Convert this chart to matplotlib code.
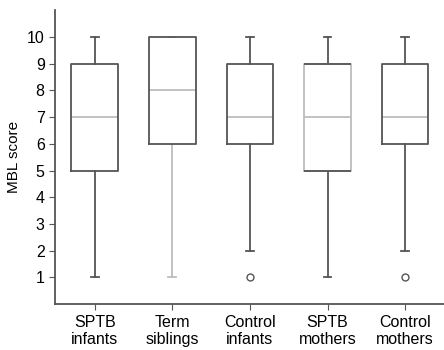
import matplotlib
matplotlib.use('Agg')
import matplotlib.pyplot as plt

plt.rcParams['font.family'] = ['Liberation Sans', 'DejaVu Sans']

# ── data ──────────────────────────────────────────────────────────────────────
groups   = ['SPTB\ninfants', 'Term\nsiblings', 'Control\ninfants', 'SPTB\nmothers', 'Control\nmothers']
whislo   = [1, 1, 2, 1, 2]
q1       = [5, 6, 6, 5, 6]
medians  = [7, 8, 7, 7, 7]
q3       = [9, 10, 9, 9, 9]
whishi   = [10, 10, 10, 10, 10]
fliers   = [[], [], [1], [], [1]]

DARK  = '#555555'
LIGHT = '#bdbdbd'
box_col   = [DARK, DARK, DARK, LIGHT, DARK]
whisk_col = [DARK, LIGHT, DARK, DARK, DARK]

stats = [dict(whislo=a, q1=b, med=c, q3=d, whishi=e, fliers=f, label=g)
         for a, b, c, d, e, f, g in zip(whislo, q1, medians, q3, whishi, fliers, groups)]

fig = plt.figure(figsize=(4.44, 3.5), dpi=100)
ax = fig.add_axes([0.124, 0.131, 0.876, 0.84])

W = 0.6
for i, st in enumerate(stats):
    ax.bxp([st], positions=[i + 1], widths=W, showfliers=True,
           boxprops=dict(color=box_col[i], linewidth=1.3, zorder=4),
           whiskerprops=dict(color=whisk_col[i], linewidth=1.3, zorder=2),
           capprops=dict(color=whisk_col[i], linewidth=1.3, zorder=2),
           medianprops=dict(color=LIGHT, linewidth=1.3, zorder=3),
           flierprops=dict(marker='o', markersize=5, markerfacecolor='white',
                           markeredgecolor=DARK, markeredgewidth=1),
           capwidths=0.1)
    # light-sided boxes still have dark top and bottom edges
    if box_col[i] == LIGHT:
        ax.hlines([q1[i], q3[i]], i + 1 - W / 2, i + 1 + W / 2,
                  color=DARK, linewidth=1.3, zorder=5)

ax.set_xlim(0.49, 5.5)
ax.set_ylim(0, 11)
ax.set_yticks(range(1, 11))
ax.set_xticks(range(1, 6))
ax.set_xticklabels(groups)
ax.set_ylabel('MBL score', fontsize=11)
ax.tick_params(labelsize=11.5, color=DARK, length=4)
for s in ['top', 'right']:
    ax.spines[s].set_visible(False)
for s in ['left', 'bottom']:
    ax.spines[s].set_color(DARK)
    ax.spines[s].set_linewidth(1.3)

fig.savefig('out.png', dpi=100)
